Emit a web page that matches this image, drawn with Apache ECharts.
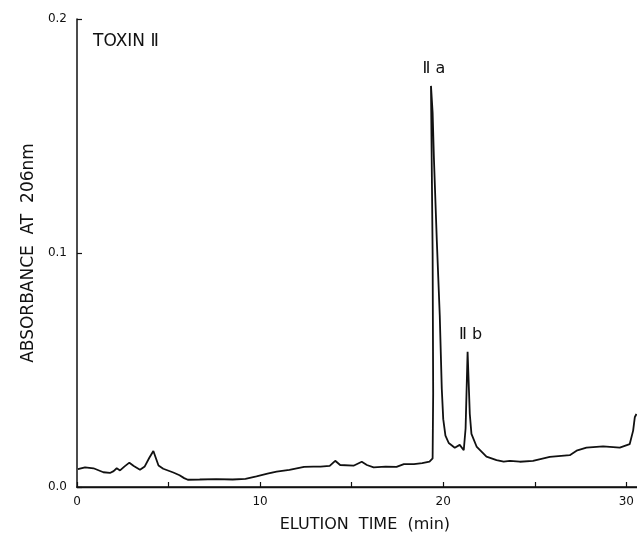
<!DOCTYPE html>
<html>
<head>
<meta charset="utf-8">
<title>Toxin II</title>
<script src="https://cdn.jsdelivr.net/npm/echarts@6/dist/echarts.min.js"></script>
<style>
  html, body { margin: 0; padding: 0; background: #fff; }
  #chart { width: 637px; height: 538px; }
</style>
</head>
<body>
<div id="chart"></div>
<script>
// Tiempo de elución (min) y absorbancia a 206 nm
const elutionTime = [
    0.05, 0.44, 0.9, 1.44, 1.8, 2.0, 2.17, 2.35, 2.6, 2.86,
    3.1, 3.44, 3.7, 3.95, 4.17, 4.3, 4.45, 4.71, 5.26, 5.6,
    5.85, 6.05, 6.7, 7.6, 8.5, 9.2, 9.8, 10.4, 10.9, 11.6,
    12.4, 12.9, 13.3, 13.8, 14.1, 14.37, 15.1, 15.55, 15.83, 16.2,
    16.85, 17.45, 17.85, 18.4, 18.85, 19.25, 19.42, 19.45, 19.42, 19.33,
    19.42, 19.49, 19.65, 19.81, 19.92, 20.0, 20.12, 20.3, 20.63, 20.9,
    21.12, 21.22, 21.33, 21.45, 21.54, 21.82, 22.36, 22.91, 23.3, 23.64,
    24.18, 24.9, 25.82, 26.91, 27.28, 27.82, 28.73, 29.64, 30.18, 30.37,
    30.46, 30.55
];
const absorbance = [
    0.0076, 0.0084, 0.0080, 0.0063, 0.0060, 0.0068, 0.0080, 0.0071, 0.0088, 0.0104,
    0.0090, 0.0074, 0.0088, 0.0125, 0.0154, 0.0125, 0.0092, 0.0078, 0.0062, 0.0050,
    0.0038, 0.0031, 0.0032, 0.0034, 0.0032, 0.0035, 0.0045, 0.0057, 0.0066, 0.0073,
    0.0086, 0.0087, 0.0087, 0.0090, 0.0112, 0.0094, 0.0091, 0.0108, 0.0094, 0.0084,
    0.0087, 0.0086, 0.0098, 0.0098, 0.0102, 0.0108, 0.0122, 0.0400, 0.1000, 0.1714,
    0.1600, 0.1406, 0.1050, 0.0733, 0.0420, 0.0290, 0.0220, 0.0188, 0.0168, 0.0180,
    0.0157, 0.0250, 0.0578, 0.0312, 0.0227, 0.0173, 0.0130, 0.0115, 0.0108, 0.0112,
    0.0108, 0.0112, 0.0129, 0.0136, 0.0155, 0.0168, 0.0174, 0.0168, 0.0183, 0.0241,
    0.0298, 0.0312
];

// Picos etiquetados
const peakNames = ['Ⅱ a', 'Ⅱ b'];
const peakTimes = [19.33, 21.33];
const peakValues = [0.1714, 0.0578];

// Etiquetas de los ejes
const xTickLabels = ['0', '10', '20', '30'];
const yTickLabels = ['0.0', '0.1', '0.2'];

const font = 'DejaVu Sans';
const ink = '#111';

const chart = echarts.init(document.getElementById('chart'));

const seriesData = elutionTime.map((t, i) => [t, absorbance[i]]);
const peakMarks = peakNames.map((name, i) => ({
    name: name,
    coord: [peakTimes[i], peakValues[i]],
    label: { offset: [3, 0] }
}));

chart.setOption({
    animation: false,
    backgroundColor: '#fff',
    title: {
        text: 'TOXIN Ⅱ',
        left: 93,
        top: 33,
        padding: 0,
        textStyle: { fontFamily: font, fontSize: 17, fontWeight: 'normal', color: ink }
    },
    grid: { left: 77, right: 0, top: 19, bottom: 44 },
    xAxis: [
        {
            type: 'value',
            min: 0,
            max: 30.57,
            interval: 5,
            name: 'ELUTION  TIME  (min)',
            nameLocation: 'middle',
            nameGap: 30,
            nameTextStyle: { fontFamily: font, fontSize: 16, color: ink, padding: [0, 0, 0, botPad()] },
            axisLine: { show: true, onZero: false, lineStyle: { color: ink, width: 1.5 } },
            axisTick: { show: true, inside: true, length: 5, lineStyle: { color: ink, width: 1.2 } },
            axisLabel: {
                fontFamily: font, fontSize: 12, color: ink, margin: 9,
                showMaxLabel: false,
                formatter: function (v) {
                    const idx = Math.round(v / 10);
                    return Math.abs(v - idx * 10) < 1e-6 ? xTickLabels[idx] : '';
                }
            },
            splitLine: { show: false }
        },
        {
            type: 'value',
            position: 'top',
            min: 0,
            max: 30.57,
            axisLine: { show: true, lineStyle: { color: ink, width: 1.3 } },
            axisTick: { show: false },
            axisLabel: { show: false },
            splitLine: { show: false }
        }
    ],
    yAxis: {
        type: 'value',
        min: 0,
        max: 0.2,
        interval: 0.1,
        name: 'ABSORBANCE  AT  206nm',
        nameLocation: 'middle',
        nameGap: 39,
        nameTextStyle: { fontFamily: font, fontSize: 17, color: ink },
        axisLine: { show: true, lineStyle: { color: ink, width: 1.5 } },
        axisTick: { show: true, inside: true, length: 5, lineStyle: { color: ink, width: 1.2 } },
        axisLabel: {
            fontFamily: font, fontSize: 12, color: ink, margin: 10,
            formatter: function (v) { return yTickLabels[Math.round(v * 10)]; }
        },
        splitLine: { show: false }
    },
    series: [
        {
            type: 'line',
            data: seriesData,
            showSymbol: false,
            symbol: 'none',
            lineStyle: { color: ink, width: 1.8 },
            markPoint: {
                symbol: 'circle',
                symbolSize: 0,
                data: peakMarks,
                label: {
                    show: true,
                    position: 'top',
                    distance: 9,
                    formatter: '{b}',
                    fontFamily: font,
                    fontSize: 16,
                    color: ink
                }
            }
        }
    ]
});

// El título del eje X está algo desplazado a la derecha del centro del área
function botPad() {
    return 16;
}
</script>
</body>
</html>
